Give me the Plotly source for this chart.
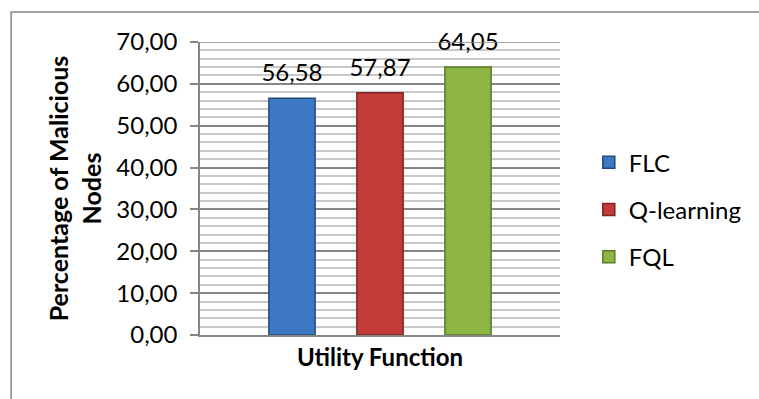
import plotly.graph_objects as go

categories = ["Utility Function"]
series_names = ["FLC", "Q-learning", "FQL"]
series_values = [56.58, 57.87, 64.05]
series_colors = ["#3D78C4", "#C23B36", "#8DB543"]
series_edges = ["#24497A", "#7A2522", "#5B7A2A"]
y_ticks = [0, 10, 20, 30, 40, 50, 60, 70]

FONT = "Lato, Carlito, Calibri, sans-serif"
FS = 24

fig = go.Figure()
for i, (name, val) in enumerate(zip(series_names, series_values)):
    fig.add_trace(go.Bar(
        x=[name],
        y=[val],
        width=0.525,
        name=name,
        legendgroup=name,
        marker=dict(color=series_colors[i], line=dict(color=series_edges[i], width=1.5)),
    ))

fig.add_trace(go.Scatter(
    x=series_names,
    y=series_values,
    mode="markers+text",
    marker=dict(size=16, color="rgba(0,0,0,0)"),
    texttemplate="%{y:.2f}",
    textposition="top center",
    textfont=dict(size=FS, color="#000000", family=FONT),
    showlegend=False,
    hoverinfo="skip",
    cliponaxis=False,
))

fig.update_layout(
    width=759, height=399,
    margin=dict(l=200, r=193, t=42, b=64),
    paper_bgcolor="white",
    plot_bgcolor="white",
    separators=",.",
    barmode="overlay",
    font=dict(family=FONT, size=FS, color="#000000"),
    showlegend=True,
    legend=dict(
        x=1.08, xanchor="left",
        y=0.665, yanchor="top",
        font=dict(size=FS, family=FONT),
        tracegroupgap=13,
        traceorder="grouped",
        bgcolor="rgba(0,0,0,0)",
    ),
    xaxis=dict(
        type="category",
        range=[-1.045, 3.045],
        showticklabels=False,
        showline=True, linecolor="#868686", linewidth=1.5,
        showgrid=False,
        ticks="",
        title=dict(text="<b>" + categories[0] + "</b>", font=dict(size=24, family=FONT), standoff=13),
    ),
    yaxis=dict(
        range=[0, 70],
        tickvals=y_ticks,
        tickformat=".2f",
        ticks="outside", ticklen=8, tickcolor="#868686", tickwidth=1.5,
        ticklabelstandoff=8,
        showline=True, linecolor="#868686", linewidth=1.5,
        showgrid=True, gridcolor="#868686", gridwidth=1.5,
        minor=dict(dtick=2, showgrid=True, gridcolor="#C8C8C8", gridwidth=1.5),
        tickfont=dict(size=FS, family=FONT),
        title=dict(text="<b>Percentage of Malicious<br>Nodes</b>", font=dict(size=25, family=FONT), standoff=8),
        zeroline=False,
    ),
    shapes=[dict(
        type="rect", xref="paper", yref="paper",
        x0=(8 - 200) / 366, x1=(770 - 200) / 366,
        y0=(335 - 410) / 293, y1=(335 - 12) / 293,
        line=dict(color="#868686", width=1.5),
        fillcolor="rgba(0,0,0,0)",
        layer="below",
    ), dict(
        type="line", xref="paper", yref="y",
        x0=0, x1=1, y0=70, y1=70,
        line=dict(color="#868686", width=1.5),
    )],
)

fig.write_html("out.html")
